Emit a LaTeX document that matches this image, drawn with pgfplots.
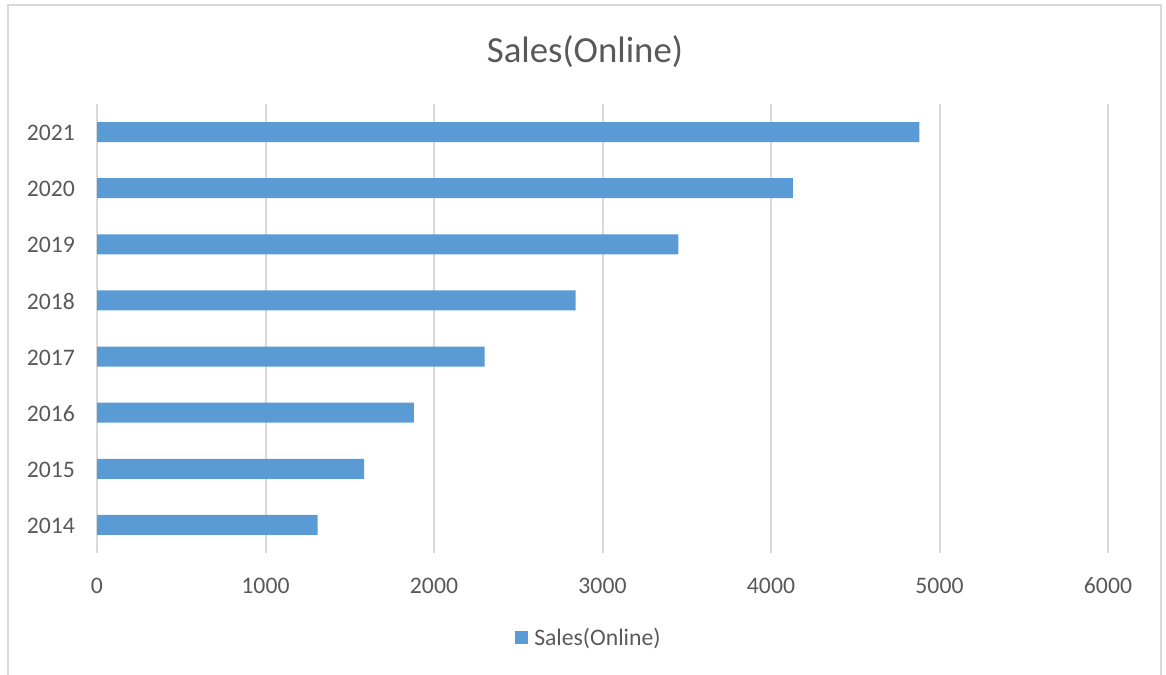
\documentclass[border=0pt]{standalone}
\usepackage{pgfplots}
\pgfplotsset{compat=1.18}
\usepackage{fontspec}
\setmainfont{Carlito}
\definecolor{barblue}{HTML}{5B9BD5}
\definecolor{gridgray}{HTML}{D9D9D9}
\definecolor{txtgray}{HTML}{595959}
\begin{document}
\begin{tikzpicture}[x=1bp,y=1bp]
\useasboundingbox (0,0) rectangle (1166,675);
\draw[gridgray, line width=2bp] (8,-2) -- (8,670) -- (1161,670) -- (1161,-2);
\node[text=txtgray, font=\fontsize{36.8bp}{44bp}\selectfont] at (585,623) {Sales(Online)};
\begin{axis}[
  at={(97bp,122bp)}, anchor=south west,
  scale only axis, width=1011bp, height=449bp,
  xbar, bar width=20bp,
  xmin=0, xmax=6000, ymin=-0.5, ymax=7.5,
  xtick={0,1000,2000,3000,4000,5000,6000},
  ytick={0,1,2,3,4,5,6,7},
  yticklabels={2014,2015,2016,2017,2018,2019,2020,2021},
  axis line style={draw=none},
  major tick length=0pt,
  xmajorgrids=true,
  ymajorgrids=false,
  grid style={gridgray, line width=2bp},
  /pgf/number format/assume math mode=true,
  /pgf/number format/1000 sep={},
  xticklabel style={anchor=center, yshift=-33bp, text=txtgray, font=\fontsize{23.7bp}{28bp}\selectfont},
  yticklabel style={anchor=east, inner sep=0pt, xshift=-22bp, yshift=-1bp, text=txtgray, font=\fontsize{23.7bp}{28bp}\selectfont},
  legend style={at={(0.4866,-0.189)}, anchor=center, draw=none, fill=none,
    font=\fontsize{23.7bp}{28bp}\selectfont, text=txtgray, inner sep=0pt, /tikz/column sep=4bp},
  legend image code/.code={\fill[barblue] (0bp,-6.5bp) rectangle (13bp,6.5bp);},
]
\addplot[fill=barblue, draw=none] coordinates {(1310,0) (1585,1) (1880,2) (2300,3) (2840,4) (3450,5) (4130,6) (4880,7)};
\addlegendentry{Sales(Online)}
\end{axis}
\end{tikzpicture}
\end{document}
